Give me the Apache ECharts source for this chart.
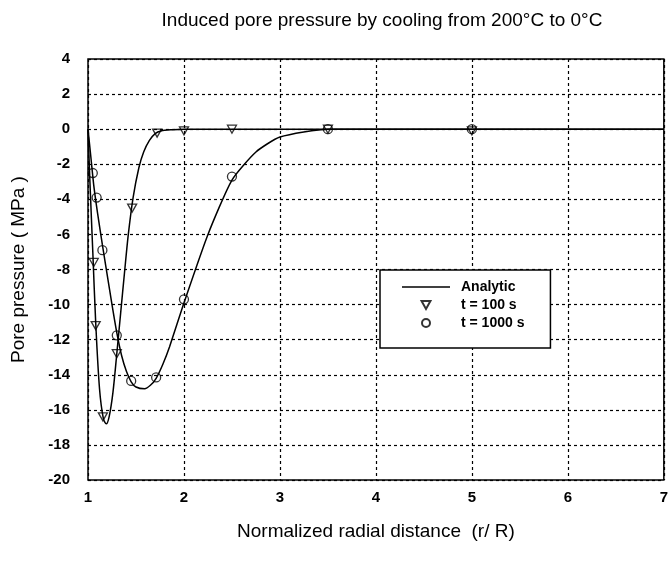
<!DOCTYPE html>
<html>
<head>
<meta charset="utf-8">
<script src="https://cdn.jsdelivr.net/npm/echarts@6/dist/echarts.min.js"></script>
<style>
  html, body { margin: 0; padding: 0; background: #fff; }
  #main { width: 671px; height: 566px; }
</style>
</head>
<body>
<div id="main"></div>
<script>
// analytic curve, t = 100 s
var analytic100X = [1.0, 1.02, 1.05, 1.08, 1.12, 1.16, 1.19, 1.22, 1.26, 1.30, 1.34, 1.38, 1.42, 1.47, 1.53, 1.58, 1.64, 1.70, 1.76, 1.88, 2.0, 2.5, 3.0, 3.5, 4.0, 5.0, 6.0, 7.0];
var analytic100Y = [0, -3.0, -7.0, -11.0, -14.8, -16.5, -16.8, -16.4, -15.0, -12.8, -10.5, -8.2, -6.0, -3.9, -2.2, -1.3, -0.64, -0.25, -0.1, -0.03, 0, 0, 0, 0, 0, 0, 0, 0];

// analytic curve, t = 1000 s
var analytic1000X = [1.0, 1.03, 1.06, 1.10, 1.15, 1.20, 1.25, 1.30, 1.35, 1.40, 1.45, 1.50, 1.59, 1.65, 1.71, 1.78, 1.85, 2.0, 2.25, 2.5, 2.75, 3.0, 3.5, 4.0, 5.0, 6.0, 7.0];
var analytic1000Y = [0, -1.6, -3.2, -4.8, -6.6, -8.3, -10.0, -11.6, -12.9, -13.8, -14.4, -14.7, -14.8, -14.6, -14.2, -13.4, -12.4, -9.9, -6.0, -2.9, -1.3, -0.45, 0, 0, 0, 0, 0];

// numerical results
var num100X = [1.06, 1.08, 1.155, 1.30, 1.46, 1.72, 2.0, 2.5, 3.5, 5.0];
var num100Y = [-7.6, -11.2, -16.4, -12.8, -4.5, -0.22, -0.1, 0, 0, -0.1];
var num1000X = [1.05, 1.09, 1.15, 1.30, 1.45, 1.71, 2.0, 2.5, 3.5, 5.0];
var num1000Y = [-2.5, -3.9, -6.9, -11.75, -14.35, -14.15, -9.7, -2.7, 0, 0];

function pairs(xs, ys) {
  return xs.map(function (x, i) { return [x, ys[i]]; });
}

var font = 'Liberation Sans, Arial, sans-serif';
var triDown = 'path://M0,0 L10,0 L5,9 Z';
var lineIcon = 'path://M0,0 L48,0 L48,1.6 L0,1.6 Z';

var chart = echarts.init(document.getElementById('main'));
var option = {
  animation: false,
  backgroundColor: '#fff',
  title: {
    text: 'Induced pore pressure by cooling from 200°C to 0°C',
    left: 377,
    textAlign: 'center',
    top: 6,
    textStyle: { fontFamily: font, fontSize: 19, fontWeight: 'normal', color: '#000' }
  },
  grid: {
    left: 88, right: 4, top: 59, bottom: 86,
    show: true, borderColor: '#000', borderWidth: 1.5, backgroundColor: 'transparent'
  },
  legend: {
    orient: 'vertical',
    left: 380, top: 270,
    padding: [10, 26, 18, 22],
    itemGap: 4,
    itemWidth: 48, itemHeight: 8,
    backgroundColor: '#fff',
    borderColor: '#000', borderWidth: 1.5,
    data: [
      { name: 'Analytic', icon: lineIcon },
      't = 100 s',
      't = 1000 s'
    ],
    textStyle: { fontFamily: font, fontSize: 14, fontWeight: 'bold', color: '#000', padding: [0, 0, 0, 6] }
  },
  xAxis: {
    type: 'value', min: 1, max: 7, interval: 1,
    name: 'Normalized radial distance  (r/ R)',
    nameLocation: 'middle', nameGap: 42,
    nameTextStyle: { fontFamily: font, fontSize: 19, color: '#000' },
    axisLine: { show: false },
    axisTick: { show: false },
    axisLabel: { fontFamily: font, fontSize: 15, fontWeight: 'bold', color: '#000', margin: 10 },
    splitLine: { show: true, lineStyle: { color: '#000', type: [3, 3], width: 1.2 } }
  },
  yAxis: {
    type: 'value', min: -20, max: 4, interval: 2,
    name: 'Pore pressure ( MPa )',
    nameLocation: 'middle', nameGap: 60,
    nameTextStyle: { fontFamily: font, fontSize: 19, color: '#000' },
    axisLine: { show: false },
    axisTick: { show: false },
    axisLabel: { fontFamily: font, fontSize: 15, fontWeight: 'bold', color: '#000', margin: 18 },
    splitLine: { show: true, lineStyle: { color: '#000', type: [3, 3], width: 1.2 } }
  },
  series: [
    {
      name: 'Analytic', type: 'line', data: pairs(analytic100X, analytic100Y),
      smooth: 0.3, symbol: 'none', lineStyle: { color: '#000', width: 1.5 }, itemStyle: { color: '#000' }
    },
    {
      name: 'Analytic', type: 'line', data: pairs(analytic1000X, analytic1000Y),
      smooth: 0.2, symbol: 'none', lineStyle: { color: '#000', width: 1.5 }, itemStyle: { color: '#000' }
    },
    {
      name: 't = 100 s', type: 'scatter', data: pairs(num100X, num100Y),
      symbol: triDown, symbolSize: [9, 8],
      itemStyle: { color: 'transparent', borderColor: '#000', borderWidth: 1.3 }
    },
    {
      name: 't = 1000 s', type: 'scatter', data: pairs(num1000X, num1000Y),
      symbol: 'circle', symbolSize: 9,
      itemStyle: { color: 'transparent', borderColor: '#000', borderWidth: 1.3 }
    }
  ]
};
chart.setOption(option);
</script>
</body>
</html>
